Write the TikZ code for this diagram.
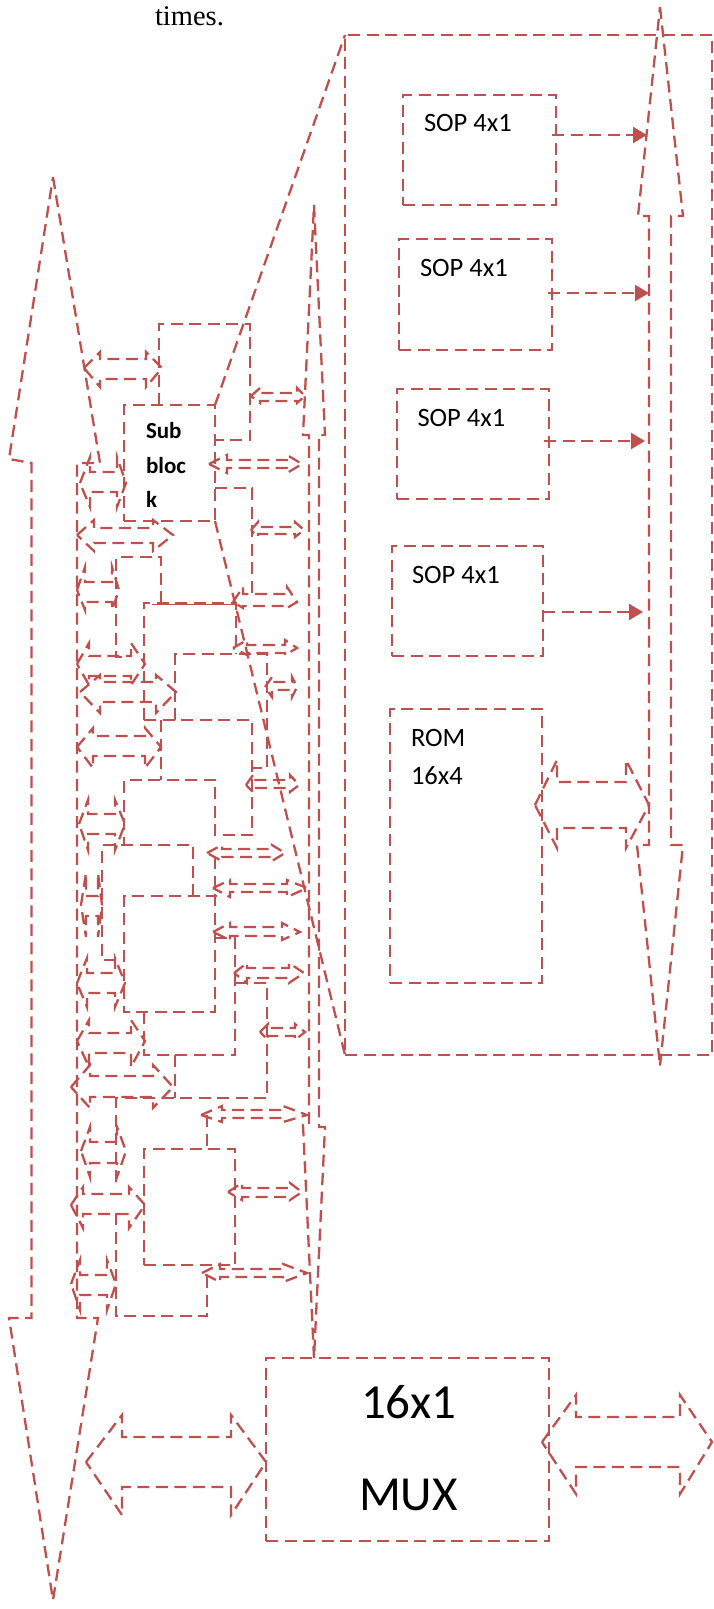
\documentclass[tikz,border=0pt]{standalone}
\usepackage{fontspec}
\setmainfont{Carlito}
\newfontfamily\timesfont{Liberation Serif}
\usetikzlibrary{arrows.meta}
\definecolor{redline}{RGB}{192,80,77}
\tikzset{
  dline/.style={draw=redline,line width=2.3pt,dash pattern=on 12pt off 6.5pt,line join=miter},
  boxnode/.style={dline,anchor=north west,inner sep=0pt,outer sep=0pt},
  lbl/.style={anchor=base west,inner sep=0pt,outer sep=0pt,text=black},
  sop/.style={lbl,font=\fontsize{26.5}{30}\selectfont},
  subl/.style={lbl,font=\fontsize{23}{27}\selectfont\bfseries},
  muxl/.style={lbl,font=\fontsize{49}{54}\selectfont},
  outarrow/.style={dline,-{Triangle[length=14pt,width=16pt,fill=redline,sep=0pt]}}
}
% xl xr ym shaftTop shaftBot wingTop wingBot innerL innerR
\newcommand\dbl[9]{\draw[dline] (#1,#3) -- (#8,#6) -- (#8,#4) -- (#9,#4) -- (#9,#6) -- (#2,#3) -- (#9,#7) -- (#9,#5) -- (#8,#5) -- (#8,#7) -- cycle;}
\begin{document}
\begin{tikzpicture}[x=1pt,y=-1pt]
\useasboundingbox (0,0) rectangle (713,1609);
\node[lbl,font=\timesfont\fontsize{28.5}{32}\selectfont] (times) at (155,25) {times.};

% large frame and its boxes
\node[boxnode,minimum width=367pt,minimum height=1020pt] (frame) at (345,35) {};
\node[boxnode,minimum width=153pt,minimum height=110pt] (sop1) at (403,95) {};
\node[boxnode,minimum width=153pt,minimum height=111pt] (sop2) at (399,239) {};
\node[boxnode,minimum width=152pt,minimum height=110pt] (sop3) at (397,389) {};
\node[boxnode,minimum width=151pt,minimum height=110pt] (sop4) at (392,546) {};
\node[boxnode,minimum width=152pt,minimum height=274pt] (rom) at (390,709) {};
\node[sop] (sop1t) at (424,131) {SOP 4x1};
\node[sop] (sop2t) at (420,276) {SOP 4x1};
\node[sop] (sop3t) at (417.5,426) {SOP 4x1};
\node[sop] (sop4t) at (412,583) {SOP 4x1};
\node[sop] (romt) at (411,746) {ROM};
\node[sop] (romu) at (411,784) {16x4};

% outputs to the bus
\coordinate (s1o) at (552,135); \coordinate (b1) at (647,135);
\coordinate (s2o) at (548,293); \coordinate (b2) at (649,293);
\coordinate (s3o) at (544,441); \coordinate (b3) at (645,441);
\coordinate (s4o) at (543,612); \coordinate (b4) at (643,612);
\draw[outarrow] (s1o) -- (b1);
\draw[outarrow] (s2o) -- (b2);
\draw[outarrow] (s3o) -- (b3);
\draw[outarrow] (s4o) -- (b4);

% three tall double arrows
\draw[dline] (660,7) -- (683,216) -- (671,216) -- (671,845) -- (683,845) -- (660,1066) -- (637,845) -- (649,845) -- (649,216) -- (638,216) -- cycle;
\draw[dline] (53,177) -- (100,463) -- (77,463) -- (77,1318) -- (98,1318) -- (53,1600) -- (9,1318) -- (31.5,1318) -- (31.5,463) -- (9,459) -- cycle;
\draw[dline] (314,205) -- (325,435) -- (319,435) -- (319,1127) -- (325,1127) -- (314,1358) -- (303,1125) -- (309,1125) -- (309,435) -- (303,435) -- cycle;

% sub block
\node[boxnode,minimum width=91pt,minimum height=116pt] (sub) at (124,405) {};
\node[subl] (subt1) at (146,438) {Sub};
\node[subl] (subt2) at (146,473) {bloc};
\node[subl] (subt3) at (146,507) {k};
\draw[dline] (sub.north east) -- (frame.north west);
\draw[dline] (sub.south east) -- (frame.south west);

% stacked blocks (visible outlines)
\draw[dline] (159,405) -- (159,324) -- (250,324) -- (250,440) -- (215,440);
\draw[dline] (215,488) -- (252,488) -- (252,595);
\draw[dline] (161,603) -- (161,557) -- (116,557) -- (116,657) -- (125,657);
\draw[dline] (144,720) -- (144,603) -- (236,603) -- (236,654);
\draw[redline,line width=1pt] (152,604) -- (236,604);
\draw[dline] (175,720) -- (175,654) -- (267,654) -- (267,768) -- (252,768);
\draw[dline] (144,720) -- (252,720) -- (252,835) -- (215,835) -- (215,780) -- (124,780) -- (124,845);
\draw[dline] (161,720) -- (161,780);
\draw[dline] (193,896) -- (193,845) -- (102,845) -- (102,960) -- (124,960);
\draw[dline] (215,857) -- (215,1012) -- (124,1012) -- (124,896) -- (217,896);
\draw[dline] (215,938) -- (235,938) -- (235,1055) -- (144,1055) -- (144,1012);
\draw[dline] (235,983) -- (267,983) -- (267,1098) -- (116,1098) -- (116,1187);
\draw[dline] (175,1055) -- (175,1098);
\draw[dline] (116,1213) -- (116,1316) -- (207,1316) -- (207,1273);
\draw[dline] (207,1115) -- (207,1149);
\node[boxnode,minimum width=91pt,minimum height=116pt] (blockm) at (144,1149) {};

% small double arrows
\dbl{84}{162}{368}{359}{379}{352}{387}{100}{146}
\dbl{251}{305}{396}{393}{401}{388}{403}{260}{297}
\dbl{209}{302}{464}{460}{468}{455}{473}{227}{287}
\dbl{251}{304}{530}{527}{534}{522}{537}{258}{295}
\dbl{80}{126}{483}{472}{492}{457}{507}{90}{117}
\dbl{77}{173}{535}{528}{543}{520}{551}{94}{153}
\dbl{77}{119}{590}{582}{602}{567}{610}{85}{112}
\dbl{233}{297}{602}{594}{606}{587}{608}{243}{287}
\dbl{233}{297}{648}{645}{653}{640}{655}{247}{285}
\dbl{77}{145}{664}{656}{676}{643}{685}{89}{131}
\dbl{80}{176}{692}{682}{702}{675}{713}{100}{156}
\dbl{265}{297}{687}{682}{690}{677}{697}{272}{292}
\dbl{77}{161}{747}{736}{756}{728}{768}{93}{145}
\dbl{246}{299}{785}{780}{788}{775}{792}{253}{290}
\dbl{79}{125}{824}{814}{834}{800}{850}{88}{115}
\dbl{207}{285}{853}{849}{857}{845}{861}{222}{272}
\dbl{81}{102}{905}{896}{916}{873}{937}{86}{98}
\dbl{213}{307}{888}{884}{892}{880}{897}{230}{287}
\dbl{213}{300}{932}{927}{936}{923}{940}{230}{282}
\dbl{234}{304}{973}{968}{978}{963}{983}{247}{289}
\dbl{77}{125}{983}{973}{993}{958}{1007}{87}{115}
\dbl{77}{145}{1041}{1033}{1053}{1020}{1067}{89}{131}
\dbl{71}{173}{1087}{1076}{1097}{1065}{1108}{90}{153}
\dbl{260}{305}{1032}{1028}{1036}{1024}{1040}{268}{295}
\dbl{201}{307}{1115}{1110}{1118}{1106}{1122}{222}{283}
\dbl{81}{126}{1151}{1142}{1163}{1127}{1177}{90}{117}
\dbl{71}{145}{1205}{1194}{1214}{1187}{1228}{83}{129}
\dbl{228}{302}{1192}{1188}{1197}{1183}{1200}{242}{290}
\dbl{71}{116}{1284}{1275}{1295}{1260}{1310}{80}{107}
\dbl{202}{307}{1273}{1269}{1277}{1264}{1282}{220}{283}
\dbl{535}{649}{805}{782}{828}{760}{848}{557}{626}

% MUX
\node[boxnode,minimum width=283pt,minimum height=183pt] (mux) at (266,1358) {};
\node[muxl] (muxa) at (361,1418) {16x1};
\node[muxl] (muxb) at (359,1510) {MUX};
\dbl{86}{266}{1462}{1437}{1487}{1415}{1515}{122}{231}
\dbl{542}{712}{1442}{1417}{1467}{1395}{1494}{576}{680}
\end{tikzpicture}
\end{document}
